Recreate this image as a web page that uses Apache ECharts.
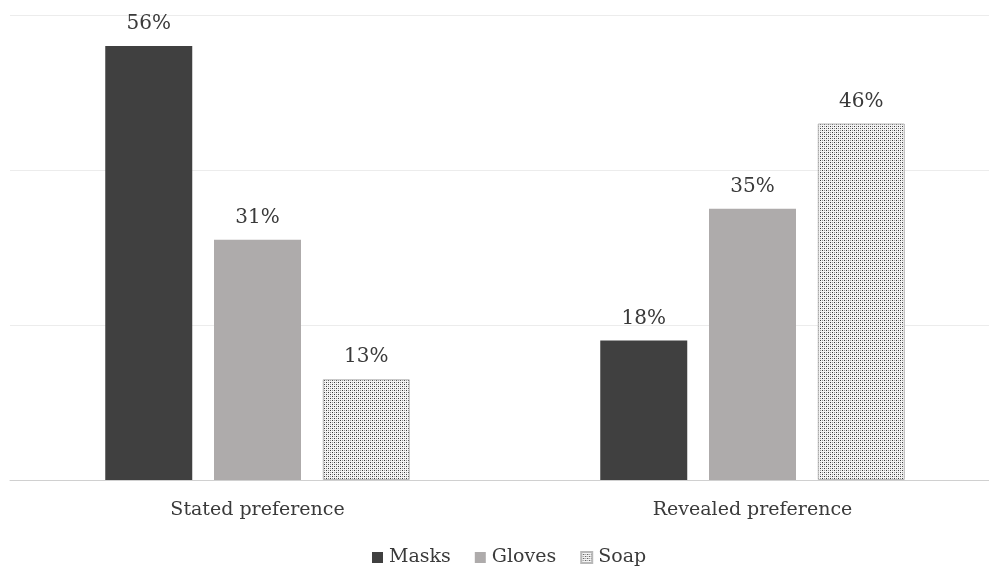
<!DOCTYPE html>
<html>
<head>
<meta charset="utf-8">
<script src="https://cdn.jsdelivr.net/npm/echarts@6/dist/echarts.min.js"></script>
<style>
  html, body { margin: 0; padding: 0; background: #ffffff; overflow: hidden; }
  #chart { width: 1000px; height: 571px; }
</style>
</head>
<body>
<div id="chart"></div>
<script>
// Share of respondents by preference type
const categories = ['Stated preference', 'Revealed preference'];
const masks = [56, 18];
const gloves = [31, 35];
const soap = [13, 46];
const yTicks = [0, 20, 40, 60];

const FONT = '"DejaVu Serif", "Liberation Serif", serif';

// Small dotted tile used as the fill for the Soap bars
function dotTile() {
  const c = document.createElement('canvas');
  c.width = 4; c.height = 4;
  const g = c.getContext('2d');
  g.fillStyle = '#f4f4f4';
  g.fillRect(0, 0, 4, 4);
  g.fillStyle = '#3a3a3a';
  g.fillRect(0, 0, 1, 1);
  g.fillRect(2, 2, 1, 1);
  g.fillStyle = '#9a9a9a';
  g.fillRect(2, 0, 1, 1);
  g.fillRect(0, 2, 1, 1);
  return c;
}
const soapFill = { image: dotTile(), repeat: 'repeat' };

const labelStyle = {
  show: true,
  position: 'top',
  distance: 12,
  formatter: p => p.value + '%',
  fontFamily: FONT,
  fontSize: 20,
  color: '#3a3a3a'
};

const chart = echarts.init(document.getElementById('chart'), null, { renderer: 'canvas' });
chart.setOption({
  animation: false,
  backgroundColor: '#ffffff',
  grid: { left: 10, right: 0, top: 15, bottom: 91, containLabel: false },
  legend: {
    top: 543,
    left: 367,
    itemWidth: 11,
    itemHeight: 11,
    itemGap: 24,
    icon: 'rect',
    textStyle: { fontFamily: FONT, fontSize: 19, color: '#3a3a3a', padding: [0, 0, 0, 1] },
    data: ['Masks', 'Gloves', 'Soap']
  },
  xAxis: {
    type: 'category',
    data: categories,
    axisTick: { show: false },
    axisLine: { lineStyle: { color: '#d0d0d0', width: 1 } },
    axisLabel: { fontFamily: FONT, fontSize: 19, color: '#3a3a3a', margin: 21 }
  },
  yAxis: {
    type: 'value',
    min: yTicks[0],
    max: yTicks[yTicks.length - 1],
    interval: yTicks[1] - yTicks[0],
    axisLabel: { show: false },
    axisLine: { show: false },
    axisTick: { show: false },
    splitLine: { lineStyle: { color: '#ececec', width: 1 } }
  },
  series: [
    {
      name: 'Masks', type: 'bar', data: masks,
      barWidth: 87, barGap: '25%',
      itemStyle: { color: '#404040' },
      label: labelStyle
    },
    {
      name: 'Gloves', type: 'bar', data: gloves,
      barWidth: 87, barGap: '25%',
      itemStyle: { color: '#aeabab' },
      label: labelStyle
    },
    {
      name: 'Soap', type: 'bar', data: soap,
      barWidth: 87, barGap: '25%',
      itemStyle: { color: soapFill, borderColor: '#b8b8b8', borderWidth: 1 },
      label: labelStyle
    }
  ]
});
</script>
</body>
</html>
